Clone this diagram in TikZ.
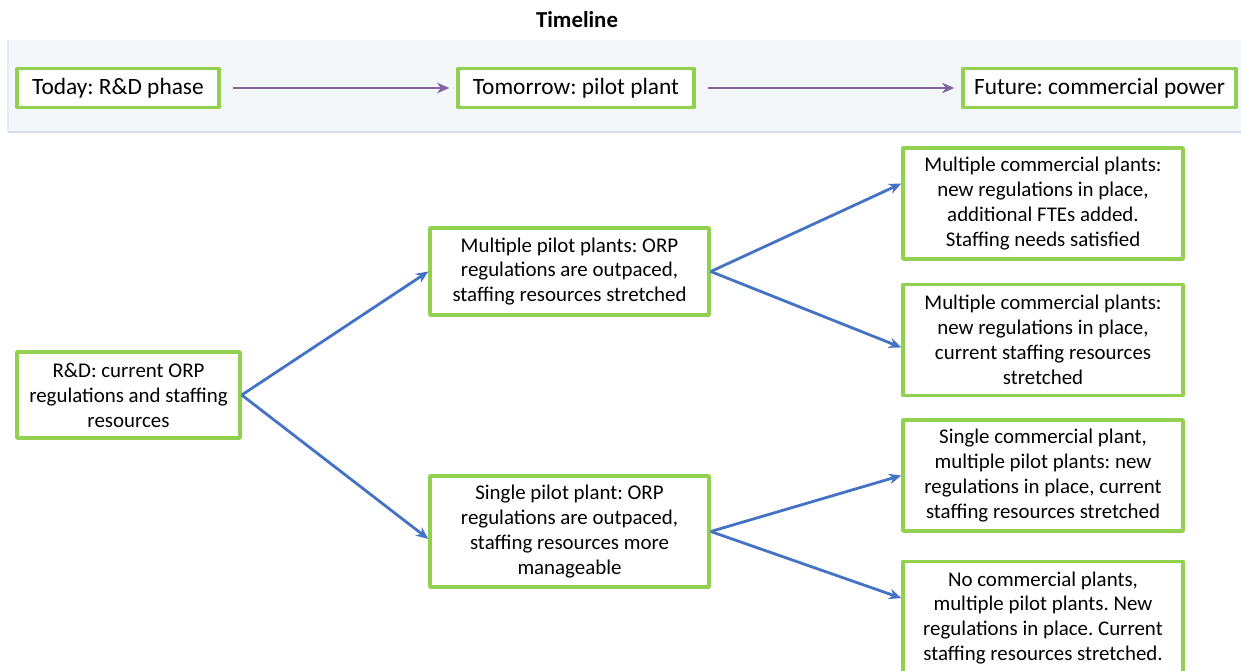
\documentclass[tikz,border=0pt]{standalone}
\usepackage{fontspec}
\setmainfont{Carlito}
\usetikzlibrary{arrows.meta}
\definecolor{boxgreen}{HTML}{92D050}
\definecolor{flowblue}{HTML}{4472C4}
\definecolor{tlpurple}{HTML}{8064A2}
\definecolor{bandfill}{HTML}{F4F7FA}
\definecolor{bandline}{HTML}{D6DAEA}
\frenchspacing
\begin{document}
\begin{tikzpicture}[x=0.02cm, y=-0.02cm, line join=round, >={Stealth[length=7pt,width=6pt]}]
	\tikzset{box/.style={draw=boxgreen, line width=2pt, fill=white, align=center, inner sep=2pt,
			font=\fontsize{11.9}{14.2}\selectfont, minimum width=5.6cm, minimum height=2.22cm},
		tlbox/.style={box, font=\fontsize{13.3}{15}\selectfont, minimum height=0.78cm},
		flow/.style={->, flowblue, line width=1.6pt},
		tlflow/.style={->, tlpurple, line width=1.2pt, shorten <=0.25cm, shorten >=0.14cm}
	}
	\useasboundingbox (0,0) rectangle (1241,670);
	\clip (0,0) rectangle (1241,670);
	% timeline band
	\fill[bandfill] (8,40) rectangle (1241,132);
	\draw[bandline, line width=1pt] (8,132) -- (1241,132);
	\draw[bandline!60, line width=0.6pt] (8,40) -- (8,132);
	\node[font=\bfseries\fontsize{13}{15}\selectfont] (title) at (577,20) {Timeline};
	\node[tlbox, minimum width=4.04cm] (today) at (118,88) {Today: R\&D phase};
	\node[tlbox, minimum width=4.72cm] (tomorrow) at (576,88) {Tomorrow: pilot plant};
	\node[tlbox, minimum width=5.46cm] (future) at (1099.5,88) {Future: commercial power};
	\draw[tlflow] (today) -- (tomorrow);
	\draw[tlflow] (tomorrow) -- (future);
	% scenario tree
	\node[box, minimum width=4.46cm, minimum height=1.72cm] (rd) at (128.5,395) {R\&D: current ORP\\regulations and staffing\\resources};
	\node[box, minimum width=5.58cm, minimum height=1.74cm] (mp) at (569.5,271.5) {Multiple pilot plants: ORP\\regulations are outpaced,\\staffing resources stretched};
	\node[box, minimum width=5.58cm] (sp) at (569.5,531.5) {Single pilot plant: ORP\\regulations are outpaced,\\staffing resources more\\manageable};
	\node[box] (mcone) at (1043,203.5) {Multiple commercial plants:\\new regulations in place,\\additional FTEs added.\\Staffing needs satisfied};
	\node[box] (mctwo) at (1043,340) {Multiple commercial plants:\\new regulations in place,\\current staffing resources\\stretched};
	\node[box] (sc) at (1043,475.5) {Single commercial plant,\\multiple pilot plants: new\\regulations in place, current\\staffing resources stretched};
	\node[box, minimum height=2.26cm] (nc) at (1043,618) {No commercial plants,\\multiple pilot plants. New\\regulations in place. Current\\staffing resources stretched.};
	\draw[flow] (rd.east) -- (mp.west);
	\draw[flow] (rd.east) -- (sp.183);
	\draw[flow] (mp.east) -- (mcone.172);
	\draw[flow] (mp.east) -- (mctwo.183);
	\draw[flow] (sp.east) -- (sc.west);
	\draw[flow] (sp.east) -- (nc.172);
\end{tikzpicture}
\end{document}
